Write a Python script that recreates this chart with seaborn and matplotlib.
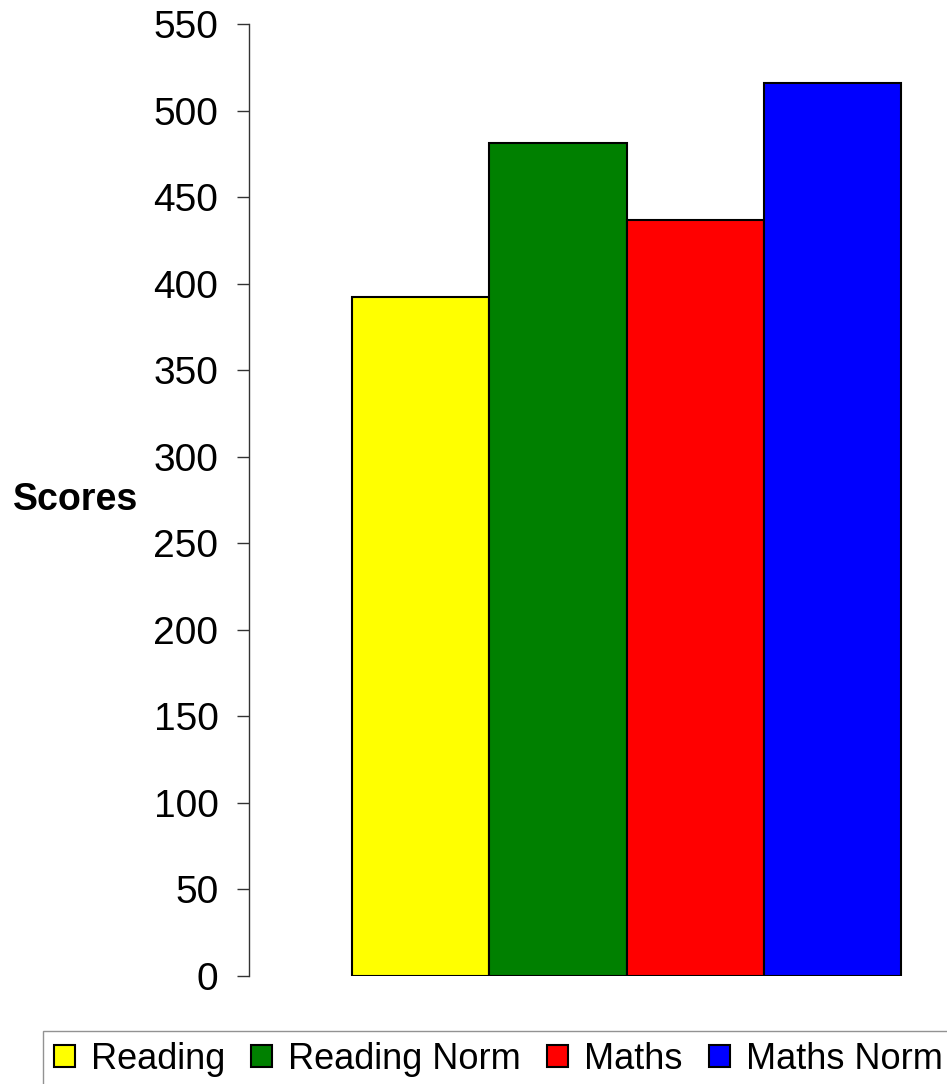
import matplotlib
matplotlib.use("Agg")
import matplotlib.pyplot as plt
import seaborn as sns
import pandas as pd

# Test scores against national norms
series = ["Reading", "Reading Norm", "Maths", "Maths Norm"]
scores = [392, 481, 437, 516]
colors = ["#FFFF00", "#008000", "#FF0000", "#0000FF"]
y_ticks = [0, 50, 100, 150, 200, 250, 300, 350, 400, 450, 500, 550]

df = pd.DataFrame({"group": [""] * len(series), "series": series, "score": scores})

sns.set_theme(style="white")
plt.rcParams["font.family"] = ["Liberation Sans", "DejaVu Sans"]
plt.rcParams["text.color"] = "black"
plt.rcParams["axes.labelcolor"] = "black"
plt.rcParams["ytick.color"] = "black"

fig = plt.figure(figsize=(9.47, 10.84), dpi=100)
ax = fig.add_axes([249 / 947, 1 - 976 / 1084, (1004 - 249) / 947, (976 - 24) / 1084])

sns.barplot(data=df, x="group", y="score", hue="series", hue_order=series,
            palette=colors, width=0.727, gap=0, edgecolor="black", linewidth=1.5,
            saturation=1, ax=ax)

ax.set_xlim(-0.5, 0.5)
ax.set_ylim(0, 550)
ax.set_yticks(y_ticks)
ax.set_yticklabels([str(t) for t in y_ticks], fontsize=28)
ax.tick_params(axis="y", direction="out", length=9, width=1, color="#333333", pad=13,
               left=True, labelcolor="black")
ax.set_xticks([])
ax.set_xlabel("")
ax.set_ylabel("Scores", fontsize=27, fontweight="bold", rotation=0, labelpad=11,
              va="center", ha="right", color="black")

for side in ["top", "right", "bottom"]:
    ax.spines[side].set_visible(False)
ax.spines["left"].set_color("#333333")
ax.spines["left"].set_linewidth(1)

handles, labels = ax.get_legend_handles_labels()
ax.get_legend().remove()
leg = fig.legend(handles, labels, loc="upper left", bbox_to_anchor=(43 / 947, 1 - 1031 / 1084),
                 ncol=4, fontsize=26, frameon=True, fancybox=False,
                 handlelength=0.58, handleheight=0.58, handletextpad=0.45,
                 columnspacing=0.72, borderpad=0.3, borderaxespad=0)
leg.get_frame().set_edgecolor("#777777")
leg.get_frame().set_linewidth(1)
for t in leg.get_texts():
    t.set_color("black")

fig.savefig("out.png", dpi=100)
